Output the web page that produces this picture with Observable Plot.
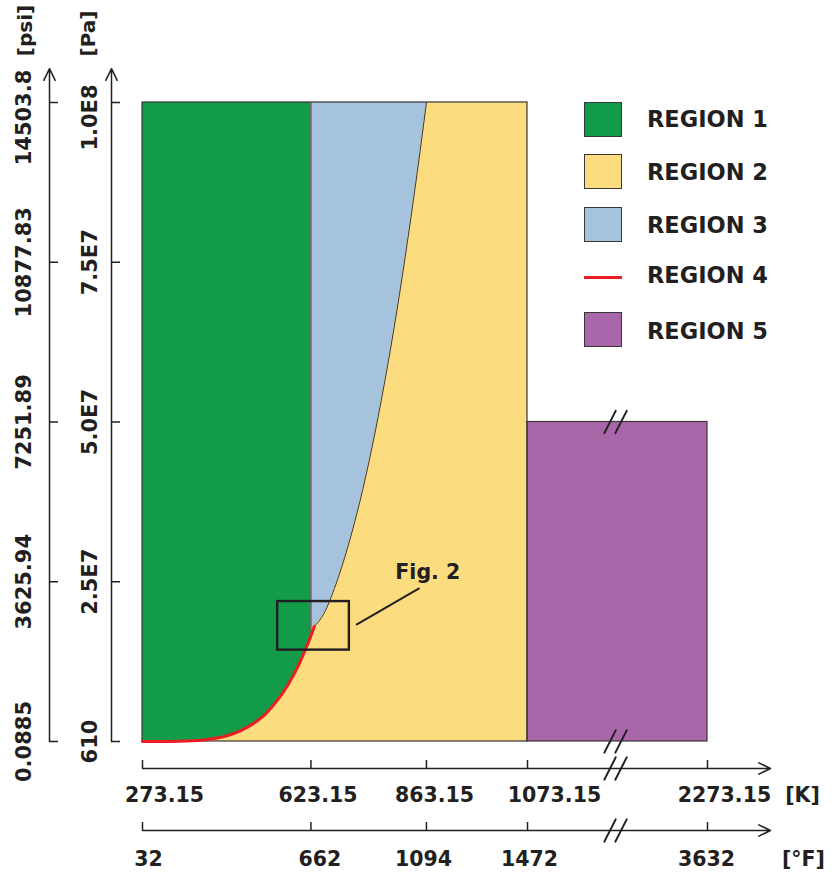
<!DOCTYPE html>
<html>
<head>
<meta charset="utf-8">
<script src="https://cdn.jsdelivr.net/npm/d3@7"></script>
<script src="https://cdn.jsdelivr.net/npm/@observablehq/plot@0.6"></script>
<style>
  body { margin: 0; background: #fff; }
  #wrap { position: relative; width: 834px; height: 876px; }
  .sw { position: absolute; box-sizing: border-box; border: 1px solid #3a3536; }
  .lbl { position: absolute; font-family: "DejaVu Sans", sans-serif; font-weight: bold; font-size: 22.5px; color: #231f20; line-height: 1; transform: translateY(-50%); white-space: nowrap; }
</style>
</head>
<body>
<div id="wrap"></div>
<script>
// ---------- data ----------
const kTicks = [273.15, 623.15, 863.15, 1073.15, 2273.15];
const kLabels = ["273.15", "623.15", "863.15", "1073.15", "2273.15"];
const fLabels = ["32", "662", "1094", "1472", "3632"];
const paTicks = [610, 2.5e7, 5.0e7, 7.5e7, 1.0e8];
const paLabels = ["610", "2.5E7", "5.0E7", "7.5E7", "1.0E8"];
const psiLabels = ["0.0885", "3625.94", "7251.89", "10877.83", "14503.8"];

// saturation line (region 4), T [K] and p [Pa]
const satT = [273.15, 300, 325, 350, 375, 400, 425, 450, 475, 500, 525, 550, 575, 600, 610, 623.15, 630];
const satP = [611, 3537, 13500, 41680, 108900, 245800, 500200, 932200, 1630000, 2639000, 4040000, 6117000, 8810000, 12345000, 14100000, 16530000, 18000000];

// B23 boundary between region 2 and region 3
const b23T = [630, 650, 675, 700, 725, 750, 775, 800, 825, 850, 863.15];
const b23P = [18.0e6, 20.0e6, 24.6e6, 30.5e6, 37.6e6, 46.0e6, 55.7e6, 66.6e6, 78.9e6, 92.4e6, 100e6];

const region2T = [273.15, 1073.15], region2P = [0, 1e8];
const region5T = [1073.15, 2273.15], region5P = [0, 5e7];
const region13T = 623.15, region13P = [16.53e6, 1e8];

const figBoxT = [554, 703], figBoxP = [14.3e6, 21.9e6];
const leaderT = [716.9, 848.8], leaderP = [18.26e6, 23.99e6];
const figLabelT = 866, figLabelP = 26.5e6, figLabel = "Fig. 2";
const breakT = 1660;

const regionNames = ["REGION 1", "REGION 2", "REGION 3", "REGION 4", "REGION 5"];
const regionColors = ["#129c49", "#fbdc7e", "#a5c3dc", "#ed1c24", "#a767a9"];

// ---------- layout ----------
const W = 834, H = 876;
const dark = "#231f20";
const font = "'DejaVu Sans', sans-serif";
const kShift = [22, 7, 8, 27, 17];
const fShift = [6, 9, -3, 2, -1];

const sat = satT.map((T, i) => ({T, p: satP[i]}));
const sat1 = sat.filter(d => d.T <= 623.15);
const b23 = b23T.map((T, i) => ({T, p: b23P[i]}));

const txt = {fontFamily: font, fontWeight: "bold", fill: dark, textAnchor: "middle", lineAnchor: "middle"};

const marks = [
  // region 2 background
  Plot.rect([0], {x1: region2T[0], x2: region2T[1], y1: region2P[0], y2: region2P[1], fill: regionColors[1]}),
  // region 5
  Plot.rect([0], {x1: region5T[0], x2: region5T[1], y1: region5P[0], y2: region5P[1], fill: regionColors[4], stroke: "#3a3536", strokeWidth: 1.2}),
  // region 1
  Plot.areaY(sat1, {x: "T", y1: "p", y2: region2P[1], fill: regionColors[0], curve: "monotone-x"}),
  // region 3
  Plot.areaX(b23, {y: "p", x1: region13T, x2: "T", fill: regionColors[2], curve: "monotone-y"}),
  Plot.line(b23, {x: "T", y: "p", stroke: "#3a3536", strokeWidth: 1, curve: "monotone-x"}),
  Plot.ruleX([region13T], {y1: region13P[0], y2: region13P[1], stroke: "#3a3536", strokeWidth: 1}),
  // region 2 outline
  Plot.rect([0], {x1: region2T[0], x2: region2T[1], y1: region2P[0], y2: region2P[1], fill: "none", stroke: "#3a3536", strokeWidth: 1.2}),
  // region 4 (saturation line)
  Plot.line(sat, {x: "T", y: "p", stroke: regionColors[3], strokeWidth: 3, curve: "monotone-x"}),
  // Fig. 2 annotation
  Plot.rect([0], {x1: figBoxT[0], x2: figBoxT[1], y1: figBoxP[0], y2: figBoxP[1], fill: "none", stroke: dark, strokeWidth: 2.4}),
  Plot.link([0], {x1: leaderT[0], x2: leaderT[1], y1: leaderP[0], y2: leaderP[1], stroke: dark, strokeWidth: 2}),
  Plot.text([figLabel], {x: figLabelT, y: figLabelP, text: d => d, fontSize: 20.5, ...txt}),

  // y axes (psi, Pa)
  ...[-93, -31].map(dx => Plot.arrow([0], {x1: region2T[0], x2: region2T[0], y1: 0, y2: 105.3e6, dx, stroke: dark, strokeWidth: 1.5, headLength: 13, headAngle: 52})),
  Plot.tickY(paTicks, {y: d => d, insetLeft: 49, insetRight: W - 58, stroke: dark, strokeWidth: 1.5}),
  Plot.tickY(paTicks, {y: d => d, insetLeft: 111, insetRight: W - 120, stroke: dark, strokeWidth: 1.5}),
  Plot.text(paTicks.slice(0, 4), {y: d => d, frameAnchor: "left", dx: 24, rotate: -90, text: (d, i) => psiLabels[i], fontSize: 21, ...txt}),
  Plot.text(paTicks.slice(4), {y: d => d, frameAnchor: "left", dx: 24, dy: 15, rotate: -90, text: d => psiLabels[4], fontSize: 21, ...txt}),
  Plot.text(paTicks.slice(0, 4), {y: d => d, frameAnchor: "left", dx: 90, rotate: -90, text: (d, i) => paLabels[i], fontSize: 21, ...txt}),
  Plot.text(paTicks.slice(4), {y: d => d, frameAnchor: "left", dx: 90, dy: 15, rotate: -90, text: d => paLabels[4], fontSize: 21, ...txt}),
  Plot.text(["[psi]"], {frameAnchor: "top-left", dx: 25, dy: 30, rotate: -90, text: d => d, fontSize: 20, ...txt}),
  Plot.text(["[Pa]"], {frameAnchor: "top-left", dx: 88, dy: 33, rotate: -90, text: d => d, fontSize: 20, ...txt}),

  // x axes (K, °F)
  ...[27, 89].map(dy => Plot.arrow([0], {x1: region2T[0], x2: 2693, y1: 0, y2: 0, dy, stroke: dark, strokeWidth: 1.5, headLength: 13, headAngle: 52})),
  Plot.tickX(kTicks, {x: d => d, insetTop: 760, insetBottom: H - 768, stroke: dark, strokeWidth: 1.5}),
  Plot.tickX(kTicks, {x: d => d, insetTop: 822, insetBottom: H - 830, stroke: dark, strokeWidth: 1.5}),
  ...kTicks.map((t, i) => Plot.text([t], {x: d => d, y: 0, dy: 54, dx: kShift[i], text: () => kLabels[i], fontSize: 20.5, ...txt})),
  ...kTicks.map((t, i) => Plot.text([t], {x: d => d, y: 0, dy: 118, dx: fShift[i], text: () => fLabels[i], fontSize: 20.5, ...txt})),
  Plot.text(["[K]"], {frameAnchor: "top-left", dx: 802, dy: 795, text: d => d, fontSize: 20.5, ...txt}),
  Plot.text(["[°F]"], {frameAnchor: "top-left", dx: 803, dy: 859, text: d => d, fontSize: 20.5, ...txt}),
];

// axis break slashes
const slash = {draw(c, l) { c.moveTo(0, 0); c.lineTo(0, -l); }};
for (const [p, dy] of [[region5P[1], 0], [region5P[0], 0], [0, 27], [0, 89]]) {
  for (const dx of [-5.5, 5.5]) {
    marks.push(Plot.vector([breakT], {x: d => d, y: p, dx, dy, length: 25, rotate: 27, shape: slash, stroke: dark, strokeWidth: 2}));
  }
}

const chart = Plot.plot({
  width: W, height: H,
  marginTop: 0, marginRight: 0, marginBottom: 0, marginLeft: 0,
  x: {type: "linear", domain: [273.15, 1073.15, 2273.15], range: [142, 527, 707], axis: null},
  y: {type: "linear", domain: [0, 1e8], range: [741, 102], axis: null},
  style: {fontFamily: font, background: "#fff", overflow: "visible"},
  marks
});

const wrap = document.getElementById("wrap");
wrap.appendChild(chart);

// legend
const legTop = [102, 154, 207, 277, 312];
const legMid = [119, 172, 225, 275, 331];
regionNames.forEach((name, i) => {
  const sw = document.createElement("div");
  if (i === 3) {
    sw.style.cssText = `position:absolute;left:584px;top:${legTop[i] - 1.5}px;width:38px;height:3px;background:${regionColors[i]};`;
  } else {
    sw.className = "sw";
    sw.style.cssText = `left:584px;top:${legTop[i]}px;width:38px;height:35px;background:${regionColors[i]};`;
  }
  wrap.appendChild(sw);
  const lb = document.createElement("div");
  lb.className = "lbl";
  lb.style.left = "647px";
  lb.style.top = legMid[i] + "px";
  lb.textContent = name;
  wrap.appendChild(lb);
});
</script>
</body>
</html>
